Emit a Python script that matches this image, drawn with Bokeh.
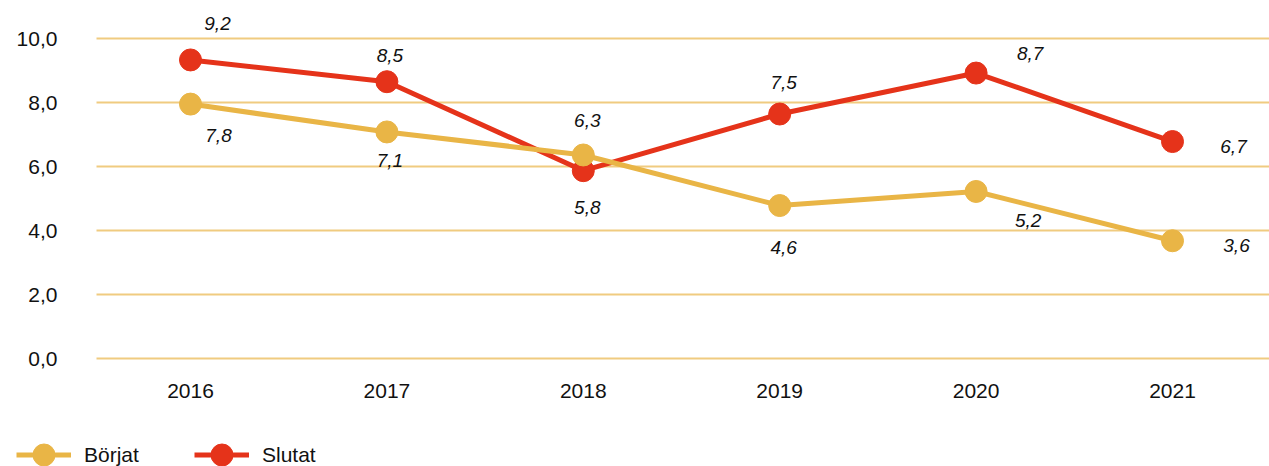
from bokeh.plotting import figure
from bokeh.models import ColumnDataSource, Legend, LegendItem, FixedTicker, Range1d
from bokeh.core.properties import value
from bokeh.embed import file_html
from bokeh.resources import INLINE

# ---- data ----
years = [2016, 2017, 2018, 2019, 2020, 2021]
year_labels = ["2016", "2017", "2018", "2019", "2020", "2021"]
borjat = [7.95, 7.08, 6.36, 4.78, 5.22, 3.68]
slutat = [9.33, 8.65, 5.87, 7.64, 8.92, 6.78]
borjat_labels = ["7,8", "7,1", "6,3", "4,6", "5,2", "3,6"]
slutat_labels = ["9,2", "8,5", "5,8", "7,5", "8,7", "6,7"]
y_ticks = [0, 2, 4, 6, 8, 10]
y_tick_labels = ["0,0", "2,0", "4,0", "6,0", "8,0", "10,0"]

# ---- label placement (screen px, layout only) ----
borjat_dx = [28, 3, 4, 4, 52, 64]
borjat_dy = [31, 29, -34, 42, 29, 5]
slutat_dx = [27, 3, 4, 4, 54, 61]
slutat_dy = [-36, -26, 37, -32, -20, 5]

C_B = "#E9B546"
C_S = "#E5331A"
GRID = "#F0CB80"
FONT = "Liberation Sans"

X_LEFT_PLOT = 2015.521   # where the plot area (grid) begins
Y_BOTTOM_PLOT = -0.4375  # where the plot area ends at the bottom

p = figure(width=1269, height=466, output_backend="svg", toolbar_location=None,
           x_range=Range1d(2015.0326, 2021.4939), y_range=Range1d(-3.375, 11.1875),
           min_border_left=0, min_border_right=0, min_border_top=0, min_border_bottom=0)
p.outline_line_color = None
p.background_fill_color = "white"
p.border_fill_color = "white"

p.xgrid.grid_line_color = None
p.ygrid.grid_line_color = GRID
p.ygrid.grid_line_width = 2
p.ygrid.ticker = FixedTicker(ticks=y_ticks)
p.ygrid.cross_bounds = (X_LEFT_PLOT, 2021.4939)

p.yaxis.ticker = FixedTicker(ticks=y_ticks)
p.yaxis.major_label_overrides = {t: l for t, l in zip(y_ticks, y_tick_labels)}
p.xaxis.ticker = FixedTicker(ticks=years)
p.xaxis.major_label_overrides = {t: l for t, l in zip(years, year_labels)}
p.yaxis.fixed_location = X_LEFT_PLOT
p.xaxis.fixed_location = Y_BOTTOM_PLOT
for ax in (p.xaxis, p.yaxis):
    ax.axis_line_color = None
    ax.major_tick_line_color = None
    ax.minor_tick_line_color = None
    ax.major_tick_out = 0
    ax.major_tick_in = 0
    ax.major_label_text_font = FONT
    ax.major_label_text_font_size = "21px"
    ax.major_label_text_color = "#111111"
p.yaxis.major_label_standoff = 39
p.xaxis.major_label_standoff = 11

src_b = ColumnDataSource(dict(x=years, y=borjat, t=borjat_labels, dx=borjat_dx, dy=borjat_dy))
src_s = ColumnDataSource(dict(x=years, y=slutat, t=slutat_labels, dx=slutat_dx, dy=slutat_dy))

ls = p.line("x", "y", source=src_s, line_color=C_S, line_width=5)
ss = p.scatter("x", "y", source=src_s, size=22, fill_color=C_S, line_color=C_S)
lb = p.line("x", "y", source=src_b, line_color=C_B, line_width=5)
sb = p.scatter("x", "y", source=src_b, size=22, fill_color=C_B, line_color=C_B)

for src in (src_b, src_s):
    p.text("x", "y", text="t", source=src, x_offset="dx", y_offset="dy",
           text_align="center", text_baseline="middle", text_font=value(FONT),
           text_font_size="19px", text_font_style="italic", text_color="#111111")

legend = Legend(items=[LegendItem(label="Börjat", renderers=[lb, sb]),
                       LegendItem(label="Slutat", renderers=[ls, ss])],
                orientation="horizontal", location=(16, -16),
                glyph_width=55, glyph_height=55, label_height=22, label_width=110,
                label_standoff=13, spacing=0, padding=0, margin=0,
                border_line_color=None, background_fill_alpha=0,
                label_text_font=FONT, label_text_font_size="21px",
                label_text_color="#111111")
p.add_layout(legend)

open("out.html", "w").write(file_html(p, INLINE))
